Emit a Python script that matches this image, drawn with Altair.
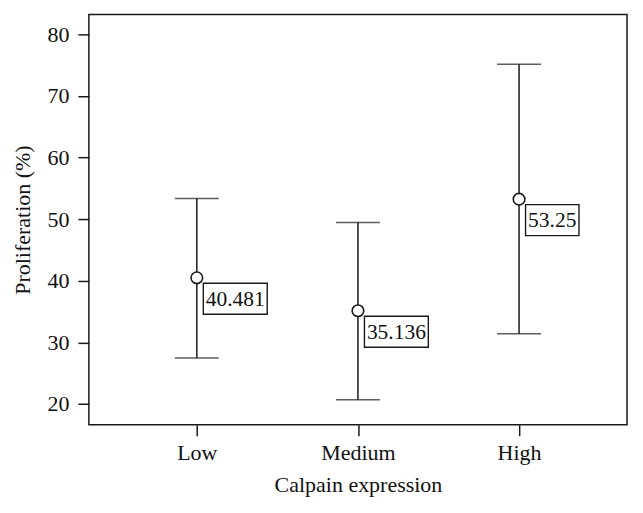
import altair as alt
import pandas as pd

categories = ["Low", "Medium", "High"]
means = [40.481, 35.136, 53.25]
lows = [27.45, 20.7, 31.4]
highs = [53.35, 49.45, 75.15]
labels = ["40.481", "35.136", "53.25"]

df = pd.DataFrame({"cat": categories, "mean": means, "lo": lows, "hi": highs, "label": labels})

FONT = "Liberation Serif"
INK = "#1a1a1a"

x = alt.X("cat:N", sort=categories, scale=alt.Scale(type="point", padding=0.67),
          axis=alt.Axis(title="Calpain expression", labelAngle=0, tickSize=11, tickWidth=1.5,
                        tickColor=INK, domain=False, labelPadding=7, titlePadding=11))
yscale = alt.Scale(domain=[16.63, 83.25], nice=False, zero=False)
yaxis = alt.Axis(title="Proliferation (%)", values=[20, 30, 40, 50, 60, 70, 80], tickSize=11,
                 tickWidth=1.5, tickColor=INK, domain=False, grid=False, labelPadding=9,
                 titlePadding=12)

base = alt.Chart(df)

bar = base.mark_rule(color=INK, strokeWidth=1.5).encode(
    x=x, y=alt.Y("lo:Q", scale=yscale, axis=yaxis), y2="hi:Q")
cap_hi = base.mark_tick(color=INK, thickness=1.5, size=44, orient="horizontal").encode(
    x=x, y=alt.Y("hi:Q", scale=yscale))
cap_lo = base.mark_tick(color=INK, thickness=1.5, size=44, orient="horizontal").encode(
    x=x, y=alt.Y("lo:Q", scale=yscale))
pt = base.mark_point(shape="circle", size=135, filled=True, fill="white", stroke=INK,
                     strokeWidth=1.6, opacity=1).encode(x=x, y=alt.Y("mean:Q", scale=yscale))

layers = [bar, cap_hi, cap_lo, pt]
for lab in labels:
    w = 10.5 * len(lab) + 1
    sub = base.transform_filter(alt.datum.label == lab)
    box = sub.mark_rect(fill="white", stroke=INK, strokeWidth=1.4, width=w, height=31,
                        xOffset=6.5 + w / 2, yOffset=21).encode(
        x=x, y=alt.Y("mean:Q", scale=yscale))
    txt = sub.mark_text(font=FONT, fontSize=21.5, color="#111111", align="center",
                        baseline="middle", dx=6.5 + w / 2, dy=22).encode(
        x=x, y=alt.Y("mean:Q", scale=yscale), text="label:N")
    layers += [box, txt]

chart = alt.layer(*layers).properties(
    width=539, height=411, autosize=alt.AutoSizeParams(type="none"),
    padding={"left": 81, "top": 6, "right": 8, "bottom": 80},
    background="white"
).configure_view(stroke=INK, strokeWidth=1.5).configure_axis(
    labelFont=FONT, titleFont=FONT, labelFontSize=22, titleFontSize=22,
    labelColor="#111111", titleColor="#111111", titleFontWeight="normal"
)

chart.save("out.html", embed_options={"renderer": "svg", "actions": False})
